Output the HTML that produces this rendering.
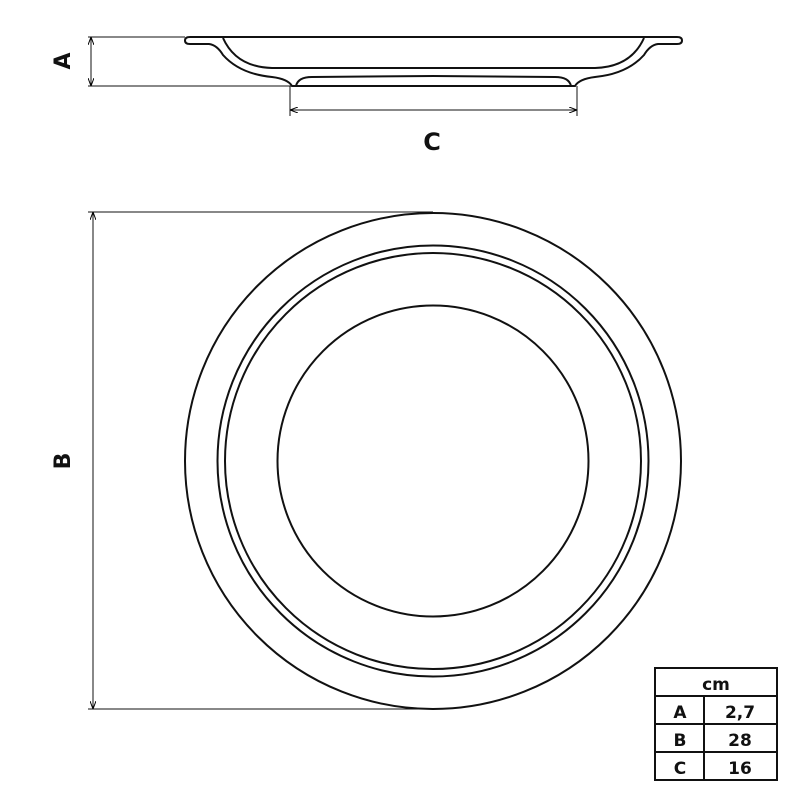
<!DOCTYPE html>
<html><head><style>html,body{margin:0;padding:0;background:#fff;}svg{display:block}</style></head>
<body>
<svg width="800" height="800" viewBox="0 0 800 800" xmlns="http://www.w3.org/2000/svg">
<defs>
<marker id="ar" markerWidth="8" markerHeight="6" refX="8" refY="3" orient="auto" markerUnits="userSpaceOnUse">
<path d="M0,0 L8,3 L0,6" fill="none" stroke="#000" stroke-width="1"/>
</marker>
<g id="half" fill="none" stroke="#111" stroke-width="2">
<path d="M434,37 L190,37 Q185,37 185,40.5 Q185,44 190,44 L209,44 Q217,45 223,55 Q240,74 272,77 Q288,79 292,86 L434,86"/>
<path d="M223,38 Q236,67 272,68 L434,68"/>
<path d="M296,86 Q298,77 312,77 L434,76"/>
</g>
</defs>
<use href="#half"/>
<use href="#half" transform="translate(867,0) scale(-1,1)"/>
<g fill="none" stroke="#111">
<g stroke-width="1">
<line x1="88" y1="37" x2="185" y2="37"/>
<line x1="88" y1="86" x2="293" y2="86"/>
<line x1="91" y1="61" x2="91" y2="37" marker-end="url(#ar)"/>
<line x1="91" y1="61" x2="91" y2="86" marker-end="url(#ar)"/>
<line x1="290" y1="86" x2="290" y2="116"/>
<line x1="577" y1="86" x2="577" y2="116"/>
<line x1="435" y1="110" x2="290" y2="110" marker-end="url(#ar)"/>
<line x1="435" y1="110" x2="577" y2="110" marker-end="url(#ar)"/>
<line x1="88" y1="212" x2="433" y2="212"/>
<line x1="88" y1="709" x2="433" y2="709"/>
<line x1="93" y1="461" x2="93" y2="212" marker-end="url(#ar)"/>
<line x1="93" y1="461" x2="93" y2="709" marker-end="url(#ar)"/>
</g>
<g stroke-width="2">
<circle cx="433" cy="461" r="248"/>
<circle cx="433" cy="461" r="215.5"/>
<circle cx="433" cy="461" r="208"/>
<circle cx="433" cy="461" r="155.5"/>
</g>
<g stroke-width="2">
<rect x="655" y="668" width="122" height="112"/>
<line x1="655" y1="696" x2="777" y2="696"/>
<line x1="655" y1="724" x2="777" y2="724"/>
<line x1="655" y1="752" x2="777" y2="752"/>
<line x1="704" y1="696" x2="704" y2="780"/>
</g>
</g>
<g font-family="DejaVu Sans, Liberation Sans, sans-serif" font-weight="bold" fill="#111" text-anchor="middle">
<text x="0" y="0" font-size="22" transform="translate(70,61) rotate(-90)">A</text>
<text x="0" y="0" font-size="22" transform="translate(70,461) rotate(-90)">B</text>
<text x="432" y="150" font-size="24">C</text>
<text x="716" y="690" font-size="17">cm</text>
<text x="680" y="718" font-size="17">A</text>
<text x="740" y="718" font-size="17">2,7</text>
<text x="680" y="746" font-size="17">B</text>
<text x="740" y="746" font-size="17">28</text>
<text x="680" y="774" font-size="17">C</text>
<text x="740" y="774" font-size="17">16</text>
</g>
</svg>
</body></html>
